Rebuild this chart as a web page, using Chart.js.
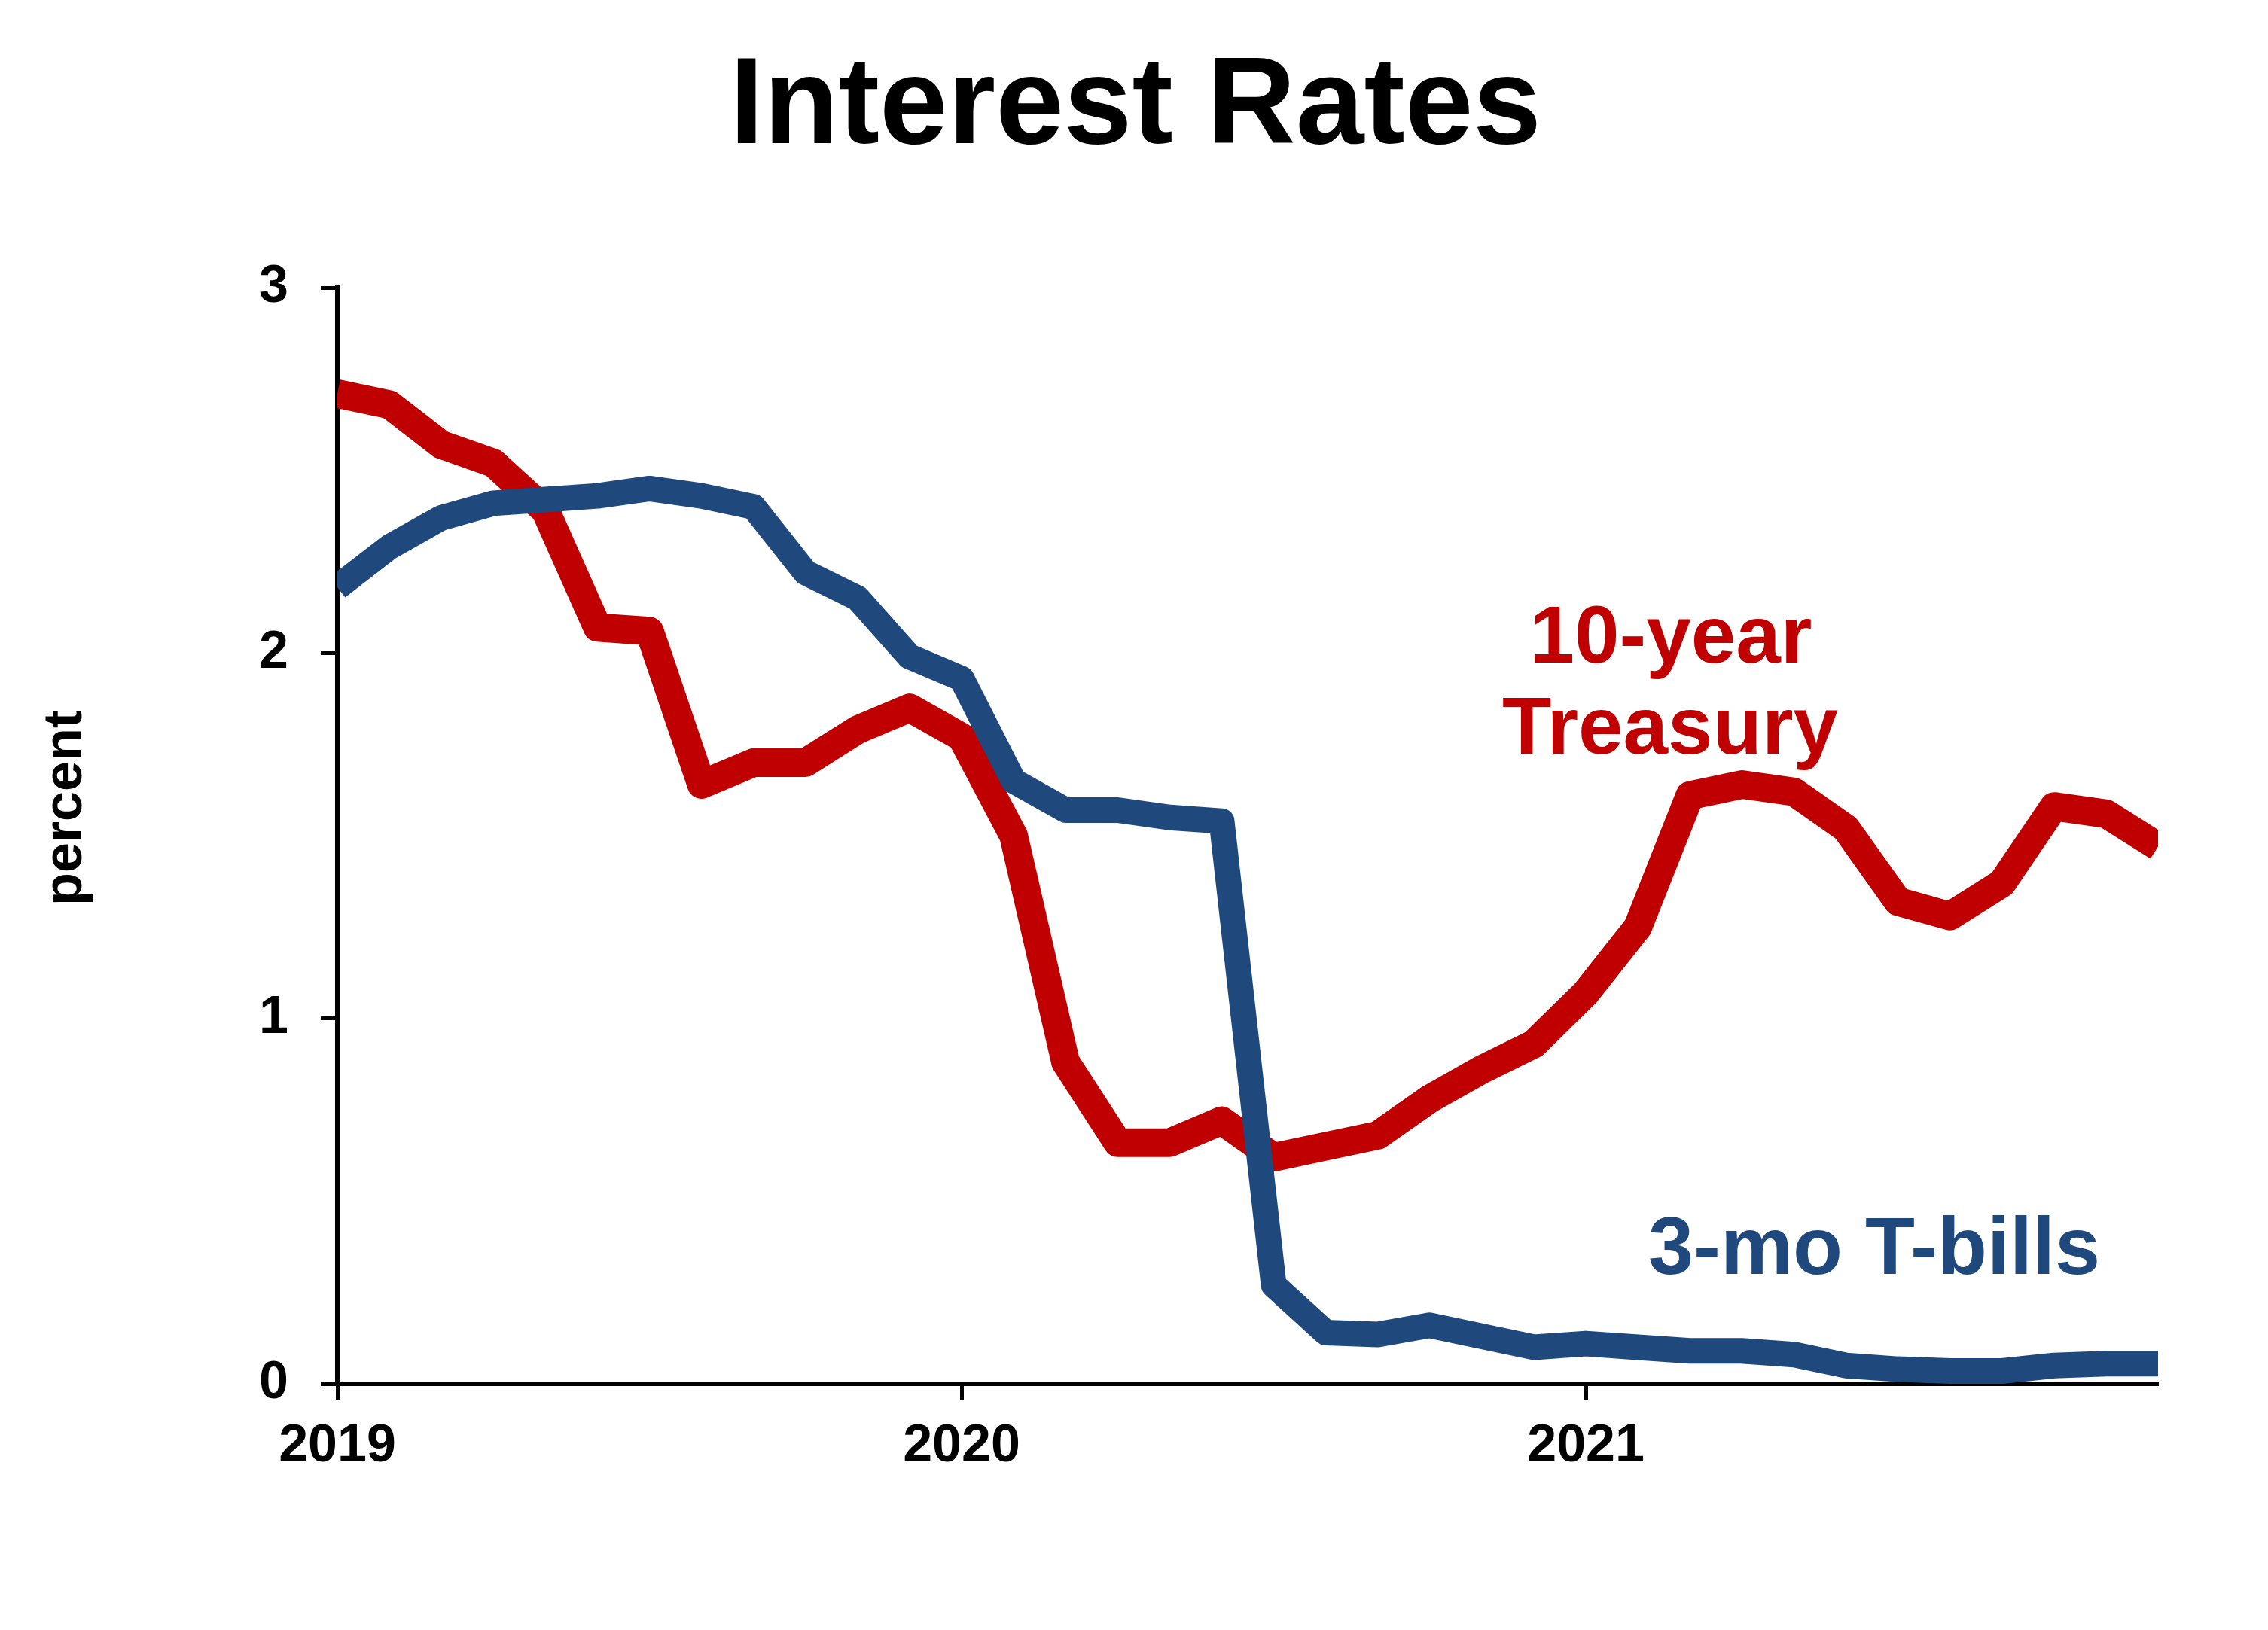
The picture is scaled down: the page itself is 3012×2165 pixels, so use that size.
<!DOCTYPE html>
<html>
<head>
<meta charset="utf-8">
<title>Interest Rates</title>
<script src="https://cdn.jsdelivr.net/npm/chart.js@4.4.0/dist/chart.umd.min.js"></script>
<style>
  html, body { margin: 0; padding: 0; background: #fff; }
</style>
</head>
<body>
<canvas id="rateChart" width="3012" height="2165"></canvas>
<script>
// monthly observations, Jan 2019 .. Dec 2021
const months = [
  '2019-01','2019-02','2019-03','2019-04','2019-05','2019-06','2019-07','2019-08','2019-09','2019-10','2019-11','2019-12',
  '2020-01','2020-02','2020-03','2020-04','2020-05','2020-06','2020-07','2020-08','2020-09','2020-10','2020-11','2020-12',
  '2021-01','2021-02','2021-03','2021-04','2021-05','2021-06','2021-07','2021-08','2021-09','2021-10','2021-11','2021-12'
];
const treasury10y = [
  2.71, 2.68, 2.57, 2.52, 2.39, 2.07, 2.06, 1.64, 1.70, 1.70, 1.79, 1.85,
  1.77, 1.50, 0.88, 0.66, 0.66, 0.72, 0.62, 0.65, 0.68, 0.78, 0.86, 0.93,
  1.07, 1.25, 1.61, 1.64, 1.62, 1.52, 1.32, 1.28, 1.37, 1.58, 1.56, 1.47
];
const tbill3m = [
  2.18, 2.29, 2.37, 2.41, 2.42, 2.43, 2.45, 2.43, 2.40, 2.22, 2.15, 1.99,
  1.93, 1.65, 1.57, 1.57, 1.55, 1.54, 0.27, 0.14, 0.135, 0.16, 0.13, 0.10,
  0.11, 0.10, 0.09, 0.09, 0.08, 0.05, 0.04, 0.035, 0.035, 0.05, 0.055, 0.055
];
const yearTicks = [0, 12, 24];
const yearLabels = ['2019', '2020', '2021'];
const yTicks = [0, 1, 2, 3];

const FONT = '"Liberation Sans", Arial, sans-serif';
const RED = '#C00000';
const BLUE = '#1F497D';

// title, series names and axis title
const textPlugin = {
  id: 'chartText',
  afterDraw(chart) {
    const ctx = chart.ctx;
    ctx.save();
    ctx.textAlign = 'center';
    ctx.textBaseline = 'alphabetic';

    ctx.fillStyle = '#000';
    ctx.font = 'bold 163px ' + FONT;
    ctx.fillText('Interest Rates', 1508, 190);

    ctx.fillStyle = RED;
    ctx.font = 'bold 107px ' + FONT;
    ctx.fillText('10-year', 2219, 880);
    ctx.fillText('Treasury', 2218, 1001);

    ctx.fillStyle = BLUE;
    ctx.font = 'bold 108px ' + FONT;
    ctx.fillText('3-mo T-bills', 2489, 1692);

    ctx.fillStyle = '#000';
    ctx.font = 'bold 72px ' + FONT;
    ctx.translate(108, 1073);
    ctx.rotate(-Math.PI / 2);
    ctx.fillText('percent', 0, 0);
    ctx.restore();
  }
};

const toPoints = arr => months.map((m, i) => ({ x: i, y: arr[i] }));

new Chart(document.getElementById('rateChart'), {
  type: 'line',
  data: {
    datasets: [
      {
        label: '3-mo T-bills',
        data: toPoints(tbill3m),
        borderColor: BLUE,
        borderWidth: 34,
        order: 0
      },
      {
        label: '10-year Treasury',
        data: toPoints(treasury10y),
        borderColor: RED,
        borderWidth: 38,
        order: 1
      }
    ]
  },
  options: {
    responsive: false,
    animation: false,
    layout: { padding: { top: 382, right: 146, left: 0, bottom: 0 } },
    elements: {
      point: { radius: 0 },
      line: { tension: 0, fill: false, borderCapStyle: 'butt', borderJoinStyle: 'round' }
    },
    plugins: {
      legend: { display: false },
      tooltip: { enabled: false },
      title: { display: false }
    },
    scales: {
      x: {
        type: 'linear',
        min: 0,
        max: months.length - 1,
        afterBuildTicks: s => { s.ticks = yearTicks.map(v => ({ value: v })); },
        afterFit: s => { s.height = 327; },
        border: { display: true, color: '#000', width: 6 },
        grid: { drawOnChartArea: false, drawTicks: true, tickLength: 22, tickWidth: 5, tickColor: '#000' },
        ticks: {
          callback: v => yearLabels[yearTicks.indexOf(v)],
          color: '#000',
          font: { family: FONT, size: 70, weight: 'bold' },
          padding: 20,
          maxRotation: 0,
          autoSkip: false
        }
      },
      y: {
        min: 0,
        max: 3,
        afterBuildTicks: s => { s.ticks = yTicks.map(v => ({ value: v })); },
        afterFit: s => { s.width = 448; },
        border: { display: true, color: '#000', width: 6 },
        grid: { drawOnChartArea: false, drawTicks: true, tickLength: 22, tickWidth: 5, tickColor: '#000' },
        ticks: {
          color: '#000',
          font: { family: FONT, size: 70, weight: 'bold' },
          padding: 43
        }
      }
    }
  },
  plugins: [textPlugin]
});
</script>
</body>
</html>
